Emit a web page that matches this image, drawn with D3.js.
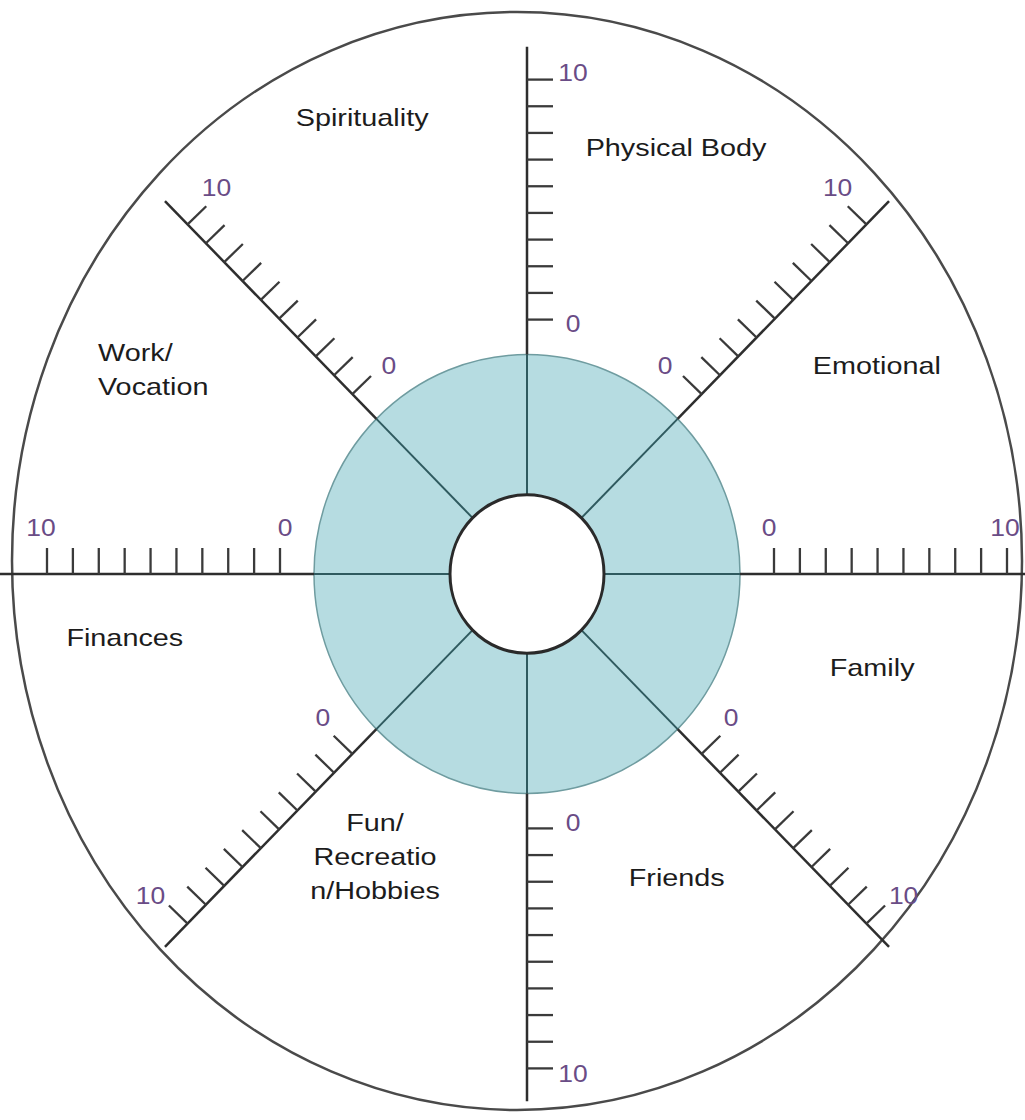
<!DOCTYPE html>
<html>
<head>
<meta charset="utf-8">
<script src="https://cdn.jsdelivr.net/npm/d3@7"></script>
<style>
  body { margin: 0; background: #fff; }
  .cat { font-family: "Liberation Sans", Arial, sans-serif; font-size: 24px; fill: #1c1c1c; }
  .tick-label { font-family: "Liberation Sans", Arial, sans-serif; font-size: 23px; fill: #6a4c86; }
</style>
</head>
<body>
<div class="svg-container"></div>
<script>
// wheel of life: 8 areas, each scored 0..10
let categories = ['Physical Body', 'Emotional', 'Family', 'Friends', 'Fun/\nRecreatio\nn/Hobbies', 'Finances', 'Work/\nVocation', 'Spirituality']
let axisAngles = [-90, -45, 0, 45, 90, 135, 180, 225]
let tickSteps = [0, 1, 2, 3, 4, 5, 6, 7, 8, 9]
let endLabels = ['0', '10']

// label placement (angle in deg, radius, anchor) - layout only
let labelLayout = [
  [-70.2, 440, 'middle'], [-30.0, 404, 'middle'], [14.8, 357, 'middle'], [63.1, 331, 'middle'],
  [118.95, 314, 'middle'], [171.2, 407, 'middle'], [208.2, 419, 'start'], [249.6, 473, 'middle']
]

let width = 1025
let height = 1120
let cx = 527
let cy = 574
let sy = 1.03
let innerR = 77
let ringR = 213
let axisEnd = 512
let tickLen = 26

let rScale = d3.scaleLinear()
  .domain([0, 9])
  .range([247, 480])

function pt (deg, r) {
  let a = deg * Math.PI / 180
  return [cx + r * Math.cos(a), cy + r * Math.sin(a) * sy]
}

function dir (deg) {
  let a = deg * Math.PI / 180
  let dx = Math.cos(a), dy = Math.sin(a) * sy
  let len = Math.hypot(dx, dy)
  return [dx / len, dy / len]
}

// perpendicular pointing "up" (or right for vertical axes)
function side (deg) {
  let d = dir(deg)
  let p = [-d[1], d[0]]
  if (Math.abs(p[1]) < 1e-6) { if (p[0] < 0) p = [-p[0], -p[1]] }
  else if (p[1] > 0) p = [-p[0], -p[1]]
  return p
}

let svg = d3.select('.svg-container')
  .append('svg')
  .attr('width', width)
  .attr('height', height)

// outer boundary
svg.append('ellipse')
  .attr('cx', 517)
  .attr('cy', 561)
  .attr('rx', 505)
  .attr('ry', 549)
  .attr('fill', 'none')
  .attr('stroke', '#4a4a4a')
  .attr('stroke-width', 2.5)

// teal ring
svg.append('ellipse')
  .attr('cx', cx).attr('cy', cy)
  .attr('rx', ringR).attr('ry', ringR * sy)
  .attr('fill', '#b6dce1')
  .attr('stroke', '#6f9ca0')
  .attr('stroke-width', 1.5)

// spokes inside ring
svg.selectAll('line.spoke')
  .data(axisAngles)
  .enter()
  .append('line')
  .attr('class', 'spoke')
  .attr('x1', d => pt(d, innerR)[0])
  .attr('y1', d => pt(d, innerR)[1])
  .attr('x2', d => pt(d, ringR)[0])
  .attr('y2', d => pt(d, ringR)[1])
  .attr('stroke', '#2f5a5f')
  .attr('stroke-width', 2)

svg.append('ellipse')
  .attr('cx', cx).attr('cy', cy)
  .attr('rx', innerR).attr('ry', innerR * sy)
  .attr('fill', '#fff')
  .attr('stroke', '#2a2a2a')
  .attr('stroke-width', 3)

// axes outside ring
svg.selectAll('line.axis')
  .data(axisAngles)
  .enter()
  .append('line')
  .attr('class', 'axis')
  .attr('x1', d => pt(d, ringR)[0])
  .attr('y1', d => pt(d, ringR)[1])
  .attr('x2', d => pt(d, d === 180 || d === 0 ? 530 : axisEnd)[0])
  .attr('y2', d => pt(d, d === 180 || d === 0 ? 530 : axisEnd)[1])
  .attr('stroke', '#2e2e2e')
  .attr('stroke-width', 2.5)

let tickData = []
axisAngles.forEach(a => tickSteps.forEach(s => tickData.push({ a: a, s: s })))

svg.selectAll('line.tick')
  .data(tickData)
  .enter()
  .append('line')
  .attr('class', 'tick')
  .attr('x1', d => pt(d.a, rScale(d.s))[0])
  .attr('y1', d => pt(d.a, rScale(d.s))[1])
  .attr('x2', d => pt(d.a, rScale(d.s))[0] + side(d.a)[0] * tickLen)
  .attr('y2', d => pt(d.a, rScale(d.s))[1] + side(d.a)[1] * tickLen)
  .attr('stroke', '#3a3a3a')
  .attr('stroke-width', 2.3)

let labelData = []
axisAngles.forEach(a => {
  labelData.push({ a: a, s: 0, t: endLabels[0], shift: -5 })
  labelData.push({ a: a, s: 9, t: endLabels[1], shift: 6 })
})

svg.selectAll('text.tick-label')
  .data(labelData)
  .enter()
  .append('text')
  .attr('class', 'tick-label')
  .attr('transform', d => {
    let b = pt(d.a, rScale(d.s))
    let p = side(d.a)
    let u = dir(d.a)
    let off = 46
    let x = Math.min(b[0] + p[0] * off + u[0] * d.shift, width - 20)
    let y = b[1] + p[1] * off + u[1] * d.shift
    return `translate(${x}, ${y}) scale(1.15, 1)`
  })
  .attr('text-anchor', 'middle')
  .attr('dominant-baseline', 'central')
  .text(d => d.t)

// category names
categories.forEach((name, i) => {
  let [ang, r, anchor] = labelLayout[i]
  let pos = pt(ang, r)
  let lines = name.split('\n')
  let lh = 34
  let x = anchor === 'start' ? 98 : pos[0]
  let t = svg.append('text')
    .attr('class', 'cat')
    .attr('text-anchor', anchor)
    .attr('transform', `translate(${x}, ${pos[1] - (lines.length - 1) * lh / 2}) scale(1.2, 1)`)
  lines.forEach((l, j) => {
    t.append('tspan')
      .attr('x', 0)
      .attr('y', j * lh)
      .attr('dominant-baseline', 'central')
      .text(l)
  })
})
</script>
</body>
</html>
